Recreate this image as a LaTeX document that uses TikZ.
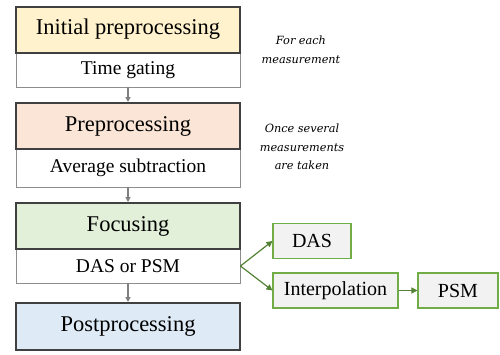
\documentclass[tikz,border=0pt]{standalone}
\usepackage{fontspec}
\setmainfont{Liberation Serif}
\newfontfamily\notefont{DejaVu Serif}
\usetikzlibrary{arrows.meta}
\definecolor{frame}{HTML}{404040}
\definecolor{subframe}{HTML}{8C8C8C}
\definecolor{linkgray}{HTML}{7F7F7F}
\definecolor{fillA}{HTML}{FFF2CC}
\definecolor{fillB}{HTML}{FBE5D6}
\definecolor{fillC}{HTML}{E2F0D9}
\definecolor{fillD}{HTML}{DEEBF7}
\definecolor{leafgreen}{HTML}{70AD47}
\definecolor{arrowgreen}{HTML}{548235}
\definecolor{leaffill}{HTML}{F2F2F2}
\tikzset{
  header/.style={draw=frame, line width=2pt, minimum width=224pt, minimum height=46pt,
    inner sep=0pt, font=\fontsize{22.5}{26}\selectfont},
  subbox/.style={draw=subframe, line width=0.9pt, fill=white, minimum width=224pt,
    minimum height=34pt, inner sep=0pt, font=\fontsize{19.5}{23}\selectfont},
  leaf/.style={draw=leafgreen, line width=1.1pt, fill=leaffill, minimum height=35pt,
    inner sep=0pt, font=\fontsize{20}{24}\selectfont},
  grayflow/.style={draw=linkgray, line width=1.2pt, -{Triangle[length=5pt,width=5pt]}},
  greenflow/.style={draw=arrowgreen, line width=1.2pt, -{Triangle[length=6pt,width=6pt]}},
  note/.style={align=center, font=\notefont\itshape\fontsize{11.3}{18.5}\selectfont}
}
\begin{document}
\begin{tikzpicture}[x=1pt, y=-1pt]
\useasboundingbox (0,0) rectangle (500,354);

% pipeline stages: description boxes first, then the framed headers on top
\node[subbox] (s1) at (128,70) {Time gating};
\node[header, fill=fillA] (h1) at (128,29.5) {Initial preprocessing};

\node[subbox, minimum height=38pt] (s2) at (128,168) {Average subtraction};
\node[header, fill=fillB] (h2) at (128,126) {Preprocessing};

\node[subbox] (s3) at (128,266) {DAS or PSM};
\node[header, fill=fillC] (h3) at (128,226) {Focusing};

\node[header, fill=fillD, minimum height=47pt] (h4) at (128,326.5) {Postprocessing};

% focusing variants
\node[leaf, minimum width=78pt] (das) at (312,241) {DAS};
\node[leaf, minimum width=125pt] (interp) at (335.5,290.5) {Interpolation};
\node[leaf, minimum width=80pt] (psm) at (458,290.5) {PSM};

% side notes
\node[note] (n1) at (301,50) {For each\\measurement};
\node[note] (n2) at (302,147) {Once several\\measurements\\are taken};

% connectors
\draw[grayflow] (s1.south) -- (h2.north);
\draw[grayflow] (s2.south) -- (h3.north);
\draw[grayflow] (s3.south) -- (h4.north);
\draw[greenflow] (s3.east) -- (das.west);
\draw[greenflow] (s3.east) -- (interp.west);
\draw[greenflow] (interp.east) -- (psm.west);
\end{tikzpicture}
\end{document}
